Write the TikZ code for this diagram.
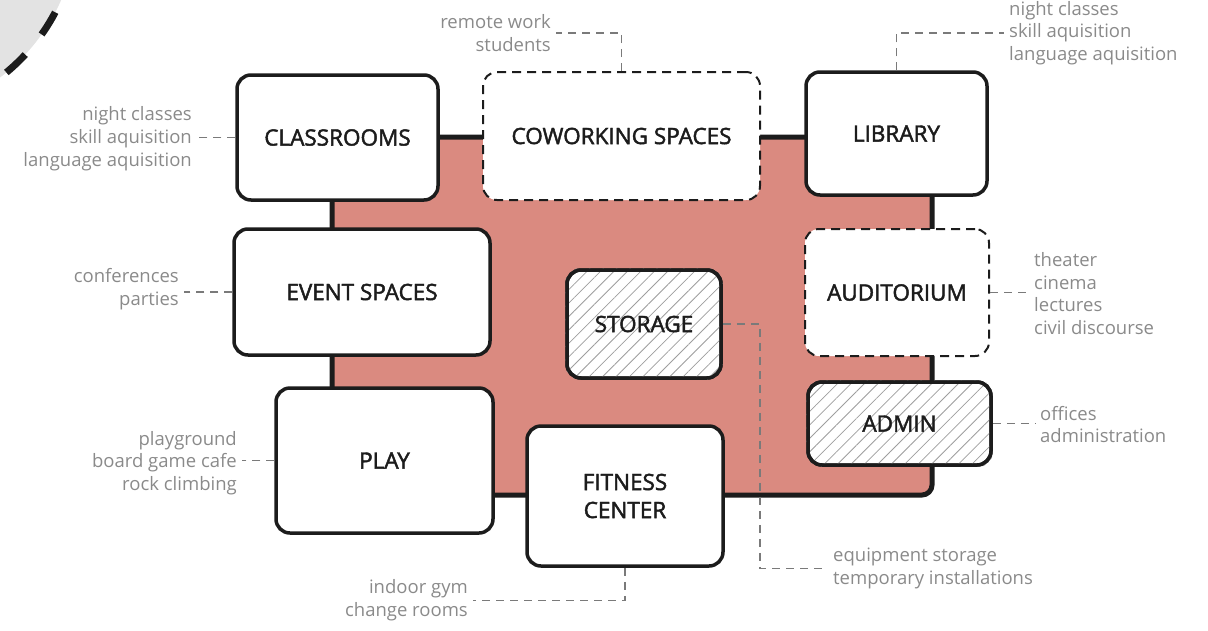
\documentclass[tikz,border=0pt]{standalone}
\usepackage{fontspec}
\setmainfont{Open Sans}
\newfontfamily\titlefont[FakeBold=2]{Open Sans}
\usetikzlibrary{patterns.meta}
\definecolor{redfill}{HTML}{DA8A80}
\definecolor{ink}{HTML}{1C1C1C}
\definecolor{lblgray}{HTML}{8A8A8A}
\definecolor{conngray}{HTML}{7A7A7A}
\tikzset{
  box/.style={draw=ink, line width=3.5pt, rounded corners=14pt, fill=white, inner sep=0pt,
    font=\titlefont\fontsize{22.5}{28}\selectfont, text=ink, align=center},
  dbox/.style={box, line width=2pt, dash pattern=on 9pt off 6pt},
  hatch/.style={pattern={Lines[angle=45,distance=9.5pt,line width=0.8pt]}, pattern color=black!38},
  lbl/.style={font=\fontsize{18.5}{22.7}\selectfont, text=lblgray, inner xsep=5pt, inner ysep=0pt},
  conn/.style={draw=conngray, line width=1.4pt, dash pattern=on 8pt off 6pt},
}
\begin{document}
\begin{tikzpicture}[x=1pt,y=-1pt]
\useasboundingbox (0,0) rectangle (1208,630);
\clip (0,0) rectangle (1208,630);
% decorative circle
\fill[black!11] (-120,-80) circle (198);
\draw[ink, line width=7pt, dash pattern=on 26pt off 26pt, dash phase=8pt] (-120,-80) circle (198);
% main red area
\draw[ink, fill=redfill, line width=5pt, rounded corners=10pt] (332,137) rectangle (932,495);
% boxes
\node[box, minimum width=201pt, minimum height=125pt] (cls) at (337.5,137.5) {CLASSROOMS};
\node[dbox, minimum width=277pt, minimum height=128pt] (cow) at (621.5,136) {COWORKING SPACES};
\node[box, minimum width=181pt, minimum height=123pt] (lib) at (896.5,133.5) {LIBRARY};
\node[box, minimum width=256pt, minimum height=126pt] (evt) at (362,292) {EVENT SPACES};
\node[box, minimum width=154pt, minimum height=108pt] (sto) at (644,324) {};
\fill[hatch, rounded corners=14pt] (sto.south west) rectangle (sto.north east);
\node[box, fill=none, minimum width=154pt, minimum height=108pt] at (sto) {STORAGE};
\node[dbox, minimum width=184pt, minimum height=127pt] (aud) at (897,292.5) {AUDITORIUM};
\node[box, minimum width=183pt, minimum height=83pt] (adm) at (899.5,423.5) {};
\fill[hatch, rounded corners=14pt] (adm.south west) rectangle (adm.north east);
\node[box, fill=none, minimum width=183pt, minimum height=83pt] at (adm) {ADMIN};
\node[box, minimum width=217pt, minimum height=145pt] (ply) at (384.5,460.5) {PLAY};
\node[box, minimum width=196pt, minimum height=140pt] (fit) at (625,496) {FITNESS\\CENTER};
% labels
\node[lbl, anchor=east, align=right] (rw) at (556,33) {remote work\\students};
\node[lbl, anchor=west, align=left] (lt) at (1004,33) {night classes\\skill aquisition\\language aquisition};
\node[lbl, anchor=east, align=right] (cl) at (197,138.5) {night classes\\skill aquisition\\language aquisition};
\node[lbl, anchor=east, align=right] (ev) at (184,289) {conferences\\parties};
\node[lbl, anchor=east, align=right] (pg) at (242,463) {playground\\board game cafe\\rock climbing};
\node[lbl, anchor=west, align=left] (th) at (1029,293.5) {theater\\cinema\\lectures\\civil discourse};
\node[lbl, anchor=west, align=left] (of) at (1035,424.5) {offices\\administration};
\node[lbl, anchor=west, align=left] (eq) at (828,568.5) {equipment storage\\temporary installations};
\node[lbl, anchor=east, align=right] (gy) at (473,600.5) {indoor gym\\change rooms};
\coordinate (sb) at (760,568.5);
% connectors
\draw[conn] (cow.north) |- (rw.east);
\draw[conn] (lib.north) |- (lt.west);
\draw[conn] (cls.west) -- (cls.west -| cl.east);
\draw[conn] (evt.west) -- (evt.west -| ev.east);
\draw[conn] (ply.west) -- (ply.west -| pg.east);
\draw[conn] (aud.east) -- (aud.east -| th.west);
\draw[conn] (adm.east) -- (adm.east -| of.west);
\draw[conn] (sto.east) -| (sb) -- (eq.west);
\draw[conn] (fit.south) |- (gy.east);
\end{tikzpicture}
\end{document}
